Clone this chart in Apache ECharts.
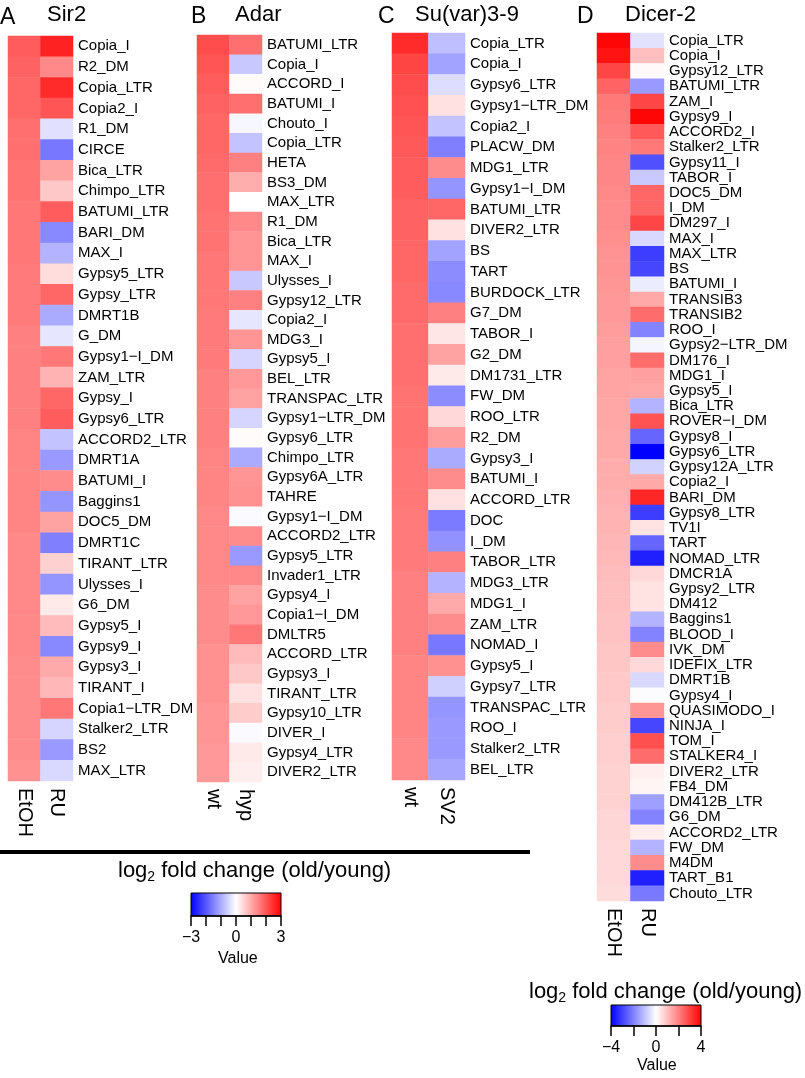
<!DOCTYPE html>
<html>
<head>
<meta charset="utf-8">
<script src="https://cdn.jsdelivr.net/npm/echarts@6.0.0/dist/echarts.min.js"></script>
<style>
html,body{margin:0;padding:0;background:#fff;}
#chart{width:805px;height:1078px;}
</style>
</head>
<body>
<div id="chart"></div>
<script>
// ---------- DATA ----------
const colsA = ['EtOH', 'RU'];
const namesA = ['Copia_I','R2_DM','Copia_LTR','Copia2_I','R1_DM','CIRCE','Bica_LTR','Chimpo_LTR','BATUMI_LTR','BARI_DM','MAX_I','Gypsy5_LTR','Gypsy_LTR','DMRT1B','G_DM','Gypsy1\u2212I_DM','ZAM_LTR','Gypsy_I','Gypsy6_LTR','ACCORD2_LTR','DMRT1A','BATUMI_I','Baggins1','DOC5_DM','DMRT1C','TIRANT_LTR','Ulysses_I','G6_DM','Gypsy5_I','Gypsy9_I','Gypsy3_I','TIRANT_I','Copia1\u2212LTR_DM','Stalker2_LTR','BS2','MAX_LTR'];
const a_EtOH = [1.9,1.85,1.8,1.8,1.7,1.7,1.65,1.65,1.6,1.6,1.6,1.55,1.55,1.55,1.5,1.5,1.5,1.5,1.5,1.45,1.45,1.45,1.45,1.45,1.4,1.4,1.4,1.4,1.4,1.4,1.35,1.35,1.35,1.35,1.35,1.3];
const a_RU = [2.6,1.4,2.5,2.0,-0.35,-1.6,1.1,0.65,1.9,-1.4,-0.9,0.4,1.8,-1.0,-0.3,1.6,0.9,1.8,1.9,-0.7,-1.2,1.35,-1.25,1.1,-1.5,0.55,-1.25,0.25,0.8,-1.4,1.0,0.85,1.6,-0.5,-1.2,-0.45];

const colsB = ['wt', 'hyp'];
const namesB = ['BATUMI_LTR','Copia_I','ACCORD_I','BATUMI_I','Chouto_I','Copia_LTR','HETA','BS3_DM','MAX_LTR','R1_DM','Bica_LTR','MAX_I','Ulysses_I','Gypsy12_LTR','Copia2_I','MDG3_I','Gypsy5_I','BEL_LTR','TRANSPAC_LTR','Gypsy1\u2212LTR_DM','Gypsy6_LTR','Chimpo_LTR','Gypsy6A_LTR','TAHRE','Gypsy1\u2212I_DM','ACCORD2_LTR','Gypsy5_LTR','Invader1_LTR','Gypsy4_I','Copia1\u2212I_DM','DMLTR5','ACCORD_LTR','Gypsy3_I','TIRANT_LTR','Gypsy10_LTR','DIVER_I','Gypsy4_LTR','DIVER2_LTR'];
const b_wt = [2.1,2.0,1.9,1.85,1.8,1.8,1.75,1.7,1.7,1.65,1.65,1.6,1.6,1.6,1.55,1.55,1.55,1.5,1.5,1.5,1.5,1.45,1.45,1.45,1.4,1.4,1.4,1.4,1.35,1.35,1.35,1.3,1.3,1.3,1.25,1.25,1.2,1.2];
const b_hyp = [1.7,-0.65,0.05,1.7,-0.1,-0.7,1.5,0.95,0.0,1.4,1.25,1.25,-0.65,1.5,-0.3,1.25,-0.5,1.2,1.1,-0.5,0.05,-1.0,1.25,1.3,-0.05,1.35,-1.2,1.4,1.1,1.2,1.6,0.8,0.65,0.35,0.6,-0.05,0.25,0.2];

const colsC = ['wt', 'SV2'];
const namesC = ['Copia_LTR','Copia_I','Gypsy6_LTR','Gypsy1\u2212LTR_DM','Copia2_I','PLACW_DM','MDG1_LTR','Gypsy1\u2212I_DM','BATUMI_LTR','DIVER2_LTR','BS','TART','BURDOCK_LTR','G7_DM','TABOR_I','G2_DM','DM1731_LTR','FW_DM','ROO_LTR','R2_DM','Gypsy3_I','BATUMI_I','ACCORD_LTR','DOC','I_DM','TABOR_LTR','MDG3_LTR','MDG1_I','ZAM_LTR','NOMAD_I','Gypsy5_I','Gypsy7_LTR','TRANSPAC_LTR','ROO_I','Stalker2_LTR','BEL_LTR'];
const c_wt = [2.5,2.2,2.1,2.05,2.0,1.95,1.9,1.9,1.85,1.85,1.8,1.8,1.75,1.75,1.7,1.7,1.7,1.65,1.65,1.65,1.6,1.6,1.6,1.55,1.55,1.55,1.5,1.5,1.5,1.5,1.45,1.45,1.45,1.45,1.4,1.4];
const c_sv2 = [-0.75,-1.1,-0.4,0.35,-0.7,-1.5,1.35,-1.25,1.8,0.35,-1.1,-1.35,-1.4,1.5,0.3,1.1,0.25,-1.35,0.45,1.15,-1.0,1.35,0.35,-1.55,-1.3,1.5,-0.9,1.0,1.35,-1.6,1.3,-0.55,-1.25,-1.2,-1.2,-1.05];

const colsD = ['EtOH', 'RU'];
const namesD = ['Copia_LTR','Copia_I','Gypsy12_LTR','BATUMI_LTR','ZAM_I','Gypsy9_I','ACCORD2_I','Stalker2_LTR','Gypsy11_I','TABOR_I','DOC5_DM','I_DM','DM297_I','MAX_I','MAX_LTR','BS','BATUMI_I','TRANSIB3','TRANSIB2','ROO_I','Gypsy2\u2212LTR_DM','DM176_I','MDG1_I','Gypsy5_I','Bica_LTR','ROVER\u2212I_DM','Gypsy8_I','Gypsy6_LTR','Gypsy12A_LTR','Copia2_I','BARI_DM','Gypsy8_LTR','TV1I','TART','NOMAD_LTR','DMCR1A','Gypsy2_LTR','DM412','Baggins1','BLOOD_I','IVK_DM','IDEFIX_LTR','DMRT1B','Gypsy4_I','QUASIMODO_I','NINJA_I','TOM_I','STALKER4_I','DIVER2_LTR','FB4_DM','DM412B_LTR','G6_DM','ACCORD2_LTR','FW_DM','M4DM','TART_B1','Chouto_LTR'];
const d_EtOH = [3.9,3.7,2.9,2.45,
  2.1,2.05,2.0,1.95,1.9,1.9,1.85,1.8,1.8,1.75,1.7,1.7,
  1.65,1.6,1.6,1.55,1.5,1.5,1.45,1.45,1.4,1.4,1.35,1.35,1.3,1.3,1.25,1.2,1.2,1.15,
  1.1,1.05,1.0,1.0,0.95,0.95,0.9,0.9,0.85,0.85,0.8,0.8,0.75,0.75,0.7,0.7,0.7,0.65,0.65,0.6,0.6,0.6,0.55];
const d_RU = [-0.45,1.0,0.1,-1.6,2.9,3.9,2.6,2.1,-2.75,-0.85,2.4,2.4,2.9,-0.6,-3.05,-2.9,-0.3,1.35,2.3,-1.95,-0.15,2.3,1.5,1.4,-1.2,2.7,-2.4,-4.0,-0.7,1.35,3.4,-3.05,0.45,-2.4,-3.5,0.6,0.45,0.45,-1.2,-1.95,1.8,0.6,-0.6,-0.05,1.65,-2.9,2.75,2.3,0.25,0.15,-1.5,-1.95,0.3,-1.2,1.8,-3.5,-2.1];

const scaleTicksABC = [-3, 0, 3];
const scaleTicksD = [-4, 0, 4];

// ---------- BUILD ----------
const FONT = '"Liberation Sans", Arial, Helvetica, sans-serif';
const panels = [
  {cols: colsA, names: namesA, v: [a_EtOH, a_RU], grid: {left: 8, top: 36, width: 65, height: 745}, fs: 15},
  {cols: colsB, names: namesB, v: [b_wt, b_hyp], grid: {left: 197, top: 35, width: 65, height: 747}, fs: 15},
  {cols: colsC, names: namesC, v: [c_wt, c_sv2], grid: {left: 392, top: 33, width: 73, height: 747}, fs: 15},
  {cols: colsD, names: namesD, v: [d_EtOH, d_RU], grid: {left: 597, top: 33, width: 67, height: 868}, fs: 15}
];

const grids = [], xAxes = [], yAxes = [], series = [];
panels.forEach((p, i) => {
  grids.push(Object.assign({}, p.grid));
  xAxes.push({
    type: 'category', gridIndex: i, data: p.cols, position: 'bottom',
    axisLine: {show: false}, axisTick: {show: false}, splitLine: {show: false},
    axisLabel: {rotate: -90, margin: 7, fontSize: 20, color: '#000', fontFamily: FONT, interval: 0}
  });
  yAxes.push({
    type: 'category', gridIndex: i, data: p.names, inverse: true, position: 'right',
    axisLine: {show: false}, axisTick: {show: false}, splitLine: {show: false},
    axisLabel: {margin: 5, fontSize: p.fs, color: '#000', fontFamily: FONT, interval: 0}
  });
  const data = [];
  p.v.forEach((col, ci) => col.forEach((val, ri) => data.push([ci, ri, val])));
  series.push({
    type: 'heatmap', xAxisIndex: i, yAxisIndex: i, data: data,
    itemStyle: {borderWidth: 0}, emphasis: {disabled: true}, animation: false
  });
});

function gradient() {
  return new echarts.graphic.LinearGradient(0, 0, 1, 0, [
    {offset: 0, color: '#0000ff'}, {offset: 0.5, color: '#ffffff'}, {offset: 1, color: '#ff0000'}
  ]);
}
function fmt(ticks) {
  return v => ticks.indexOf(v) >= 0 ? String(v).replace('-', '\u2212') : '';
}
const bars = [
  {grid: {left: 191, top: 893, width: 90, height: 23}, min: -3, max: 3, interval: 1, ticks: scaleTicksABC},
  {grid: {left: 611, top: 1005, width: 90, height: 21}, min: -4, max: 4, interval: 2, ticks: scaleTicksD}
];
bars.forEach((b, k) => {
  const gi = 4 + k;
  grids.push(Object.assign({show: true, backgroundColor: gradient(), borderColor: '#000', borderWidth: 1}, b.grid));
  xAxes.push({
    type: 'value', gridIndex: gi, min: b.min, max: b.max, interval: b.interval,
    axisLine: {show: true, lineStyle: {color: '#000', width: 1.5}},
    axisTick: {show: true, length: 10, lineStyle: {color: '#000', width: 1.5}},
    splitLine: {show: false},
    axisLabel: {formatter: fmt(b.ticks), fontSize: 16, color: '#000', fontFamily: FONT, margin: 14, showMinLabel: true, showMaxLabel: true}
  });
  yAxes.push({type: 'value', gridIndex: gi, show: false, min: 0, max: 1});
});

const titleStyle = {fontWeight: 'normal', color: '#000', fontFamily: FONT};
function txt(x, y, s, size) {
  return {type: 'text', x: x, y: y, style: {text: s, fontSize: size, fontFamily: FONT, fill: '#000', verticalAlign: 'middle'}};
}
const fcRich = {
  a: {fontSize: 22, fontFamily: FONT, color: '#000', fontWeight: 'normal'},
  s: {fontSize: 14, fontFamily: FONT, color: '#000', fontWeight: 'normal', verticalAlign: 'bottom', padding: [12, 0, 0, 0]}
};

const option = {
  backgroundColor: '#fff',
  animation: false,
  grid: grids, xAxis: xAxes, yAxis: yAxes, series: series,
  visualMap: [
    {type: 'continuous', show: false, min: -3, max: 3, seriesIndex: [0, 1, 2], inRange: {color: ['#0000ff', '#ffffff', '#ff0000']}},
    {type: 'continuous', show: false, min: -4, max: 4, seriesIndex: [3], inRange: {color: ['#0000ff', '#ffffff', '#ff0000']}}
  ],
  title: [
    {text: '{a|log}{s|2}{a| fold change (old/young)}', left: 118, top: 858, padding: 0, textStyle: {fontWeight: 'normal', rich: fcRich}},
    {text: '{a|log}{s|2}{a| fold change (old/young)}', left: 529, top: 979, padding: 0, textStyle: {fontWeight: 'normal', rich: fcRich}},
    {text: 'Value', left: 218, top: 951, padding: 0, textStyle: Object.assign({fontSize: 16}, titleStyle)},
    {text: 'Value', left: 637, top: 1058, padding: 0, textStyle: Object.assign({fontSize: 16}, titleStyle)}
  ],
  graphic: [
    txt(0, 18, 'A', 23), txt(47, 15, 'Sir2', 22),
    txt(191, 17, 'B', 23), txt(235, 15, 'Adar', 22),
    txt(378, 17, 'C', 23), txt(415, 15, 'Su(var)3-9', 22),
    txt(577, 17, 'D', 23), txt(625, 15, 'Dicer-2', 22),
    {type: 'line', shape: {x1: 0, y1: 852, x2: 530, y2: 852}, style: {stroke: '#000', lineWidth: 4}}
  ]
};

const chart = echarts.init(document.getElementById('chart'), null, {renderer: 'canvas'});
chart.setOption(option);
</script>
</body>
</html>
